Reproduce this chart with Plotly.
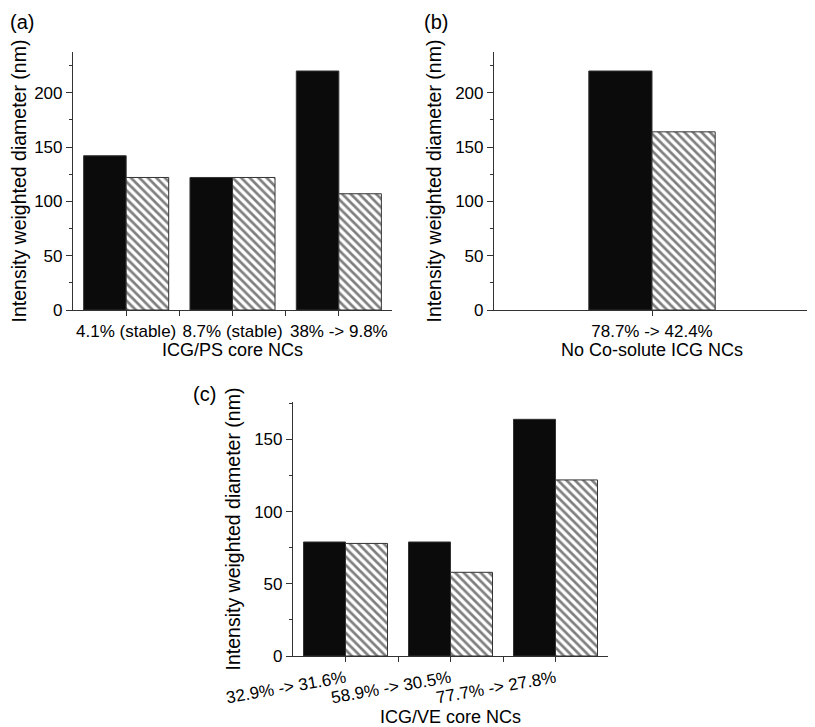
import plotly.graph_objects as go

# ---- data ----
a_labels = ["4.1% (stable)", "8.7% (stable)", "38% -> 9.8%"]
a_before = [142, 122, 220]
a_after = [122, 122, 107]

b_labels = ["78.7% -> 42.4%"]
b_before = [220]
b_after = [164]

c_labels = ["32.9% -> 31.6%", "58.9% -> 30.5%", "77.7% -> 27.8%"]
c_before = [79, 79, 164]
c_after = [78, 58, 122]

W, H = 815, 727
OFF = 8  # page body margin in the browser
FONT = "Liberation Sans, Arial, Helvetica, sans-serif"

fig = go.Figure()

def add_panel(idx, labels, before, after, width):
    xs = list(range(len(labels)))
    xa = "x" if idx == 1 else f"x{idx}"
    ya = "y" if idx == 1 else f"y{idx}"
    fig.add_trace(go.Bar(x=xs, y=before, width=width, offset=-width,
                         marker=dict(color="#0b0b0b", line=dict(color="#333333", width=1)),
                         xaxis=xa, yaxis=ya, showlegend=False))
    fig.add_trace(go.Bar(x=xs, y=after, width=width, offset=0,
                         marker=dict(color="white", line=dict(color="#333333", width=1),
                                     pattern=dict(shape="\\", fgcolor="#000000", bgcolor="white",
                                                  size=6, solidity=0.45)),
                         xaxis=xa, yaxis=ya, showlegend=False))

add_panel(1, a_labels, a_before, a_after, 0.4)
add_panel(2, b_labels, b_before, b_after, 0.2)
add_panel(3, c_labels, c_before, c_after, 0.4)

def dx(p0, p1):
    return [(p0 - OFF) / W, (p1 - OFF) / W]

def dy(top, bottom):
    return [1 - (bottom - OFF) / H, 1 - (top - OFF) / H]

tickfont = dict(family=FONT, size=17, color="black")
xtitlefont = dict(family=FONT, size=18, color="black")
ytitlefont = dict(family=FONT, size=19.5, color="black")
labelfont = dict(family=FONT, size=20, color="black")

def xaxis(domain, anchor, labels, title, angle=0):
    n = len(labels)
    return dict(domain=domain, anchor=anchor, range=[-0.5, n - 0.5], automargin=False,
                tickvals=list(range(n)), ticktext=labels, tickangle=angle,
                showline=True, linecolor="#333", linewidth=1.2,
                ticks="outside", ticklen=5, tickcolor="#333",
                minor=dict(tickvals=[i + 0.5 for i in range(n - 1)], ticks="outside",
                           ticklen=5, tickcolor="#333"),
                showgrid=False, zeroline=False, tickfont=tickfont,
                title=dict(text=title, font=xtitlefont, standoff=2))

def yaxis(domain, anchor, rng, maxv):
    return dict(domain=domain, anchor=anchor, range=rng, automargin=False,
                tickvals=list(range(0, maxv + 1, 50)),
                showline=True, linecolor="#333", linewidth=1.2,
                ticks="outside", ticklen=6, tickcolor="#333",
                minor=dict(dtick=25, ticks="outside", ticklen=3, tickcolor="#333"),
                showgrid=False, zeroline=False, tickfont=tickfont,
                title=dict(text="Intensity weighted diameter (nm)", font=ytitlefont, standoff=8))

def ann(text, px, py):
    return dict(text=text, x=(px - OFF) / W, y=1 - (py - OFF) / H, xref="paper", yref="paper",
                xanchor="left", yanchor="top", showarrow=False, font=labelfont)

fig.update_layout(
    width=W, height=H, margin=dict(l=0, r=0, t=0, b=0),
    paper_bgcolor="white", plot_bgcolor="white",
    barmode="overlay",
    xaxis=xaxis(dx(73, 392), "y", a_labels, "ICG/PS core NCs"),
    yaxis=yaxis(dy(52, 310), "x", [0, 237.5], 200),
    xaxis2=xaxis(dx(494, 810), "y2", b_labels, "No Co-solute ICG NCs"),
    yaxis2=yaxis(dy(52, 310), "x2", [0, 237.5], 200),
    xaxis3=xaxis(dx(293, 608), "y3", c_labels, "ICG/VE core NCs", angle=-10),
    yaxis3=yaxis(dy(402, 656), "x3", [0, 176], 150),
    annotations=[
        ann("(a)", 8, 9),
        ann("(b)", 422, 9),
        ann("(c)", 191, 381),
    ],
)

fig.write_html("out.html")
